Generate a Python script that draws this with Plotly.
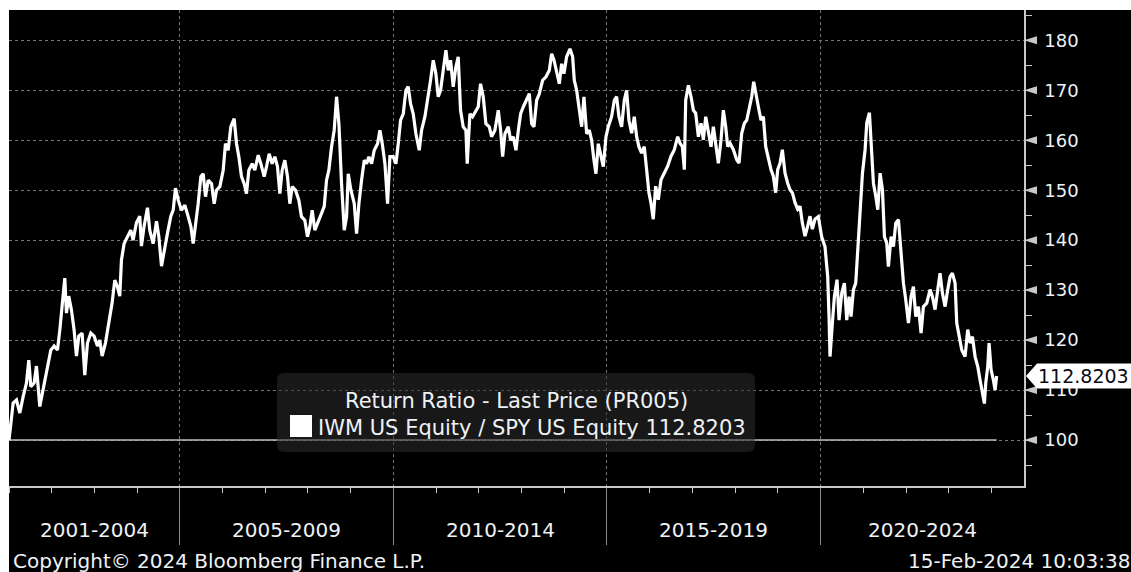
import pandas as pd
import plotly.graph_objects as go

# ---------------- data ----------------
obs_year = [
    2001.000, 2001.058, 2001.097, 2001.175, 2001.253, 2001.331, 2001.409, 2001.464, 2001.511, 2001.589, 2001.643, 2001.721, 2001.799, 2001.854, 2001.916, 2001.979,
    2002.057, 2002.135, 2002.190, 2002.244, 2002.307, 2002.346, 2002.400, 2002.463, 2002.525, 2002.580, 2002.635, 2002.713, 2002.775, 2002.838, 2002.916, 2002.994,
    2003.072, 2003.126, 2003.181, 2003.259, 2003.337, 2003.415, 2003.478, 2003.540, 2003.595, 2003.634, 2003.696, 2003.774, 2003.852, 2003.907, 2003.985,
    2004.063, 2004.102, 2004.165, 2004.243, 2004.297, 2004.375, 2004.454, 2004.508, 2004.571, 2004.633, 2004.711, 2004.789, 2004.844, 2004.898, 2004.961,
    2005.039, 2005.117, 2005.195, 2005.258, 2005.312, 2005.367, 2005.429, 2005.492, 2005.546, 2005.601, 2005.664, 2005.742, 2005.804, 2005.859, 2005.937,
    2006.015, 2006.069, 2006.132, 2006.194, 2006.272, 2006.327, 2006.382, 2006.444, 2006.507, 2006.561, 2006.616, 2006.694, 2006.756, 2006.835, 2006.897, 2006.975,
    2007.030, 2007.092, 2007.162, 2007.225, 2007.287, 2007.342, 2007.397, 2007.459, 2007.522, 2007.576, 2007.631, 2007.709, 2007.787, 2007.849, 2007.927, 2007.990,
    2008.045, 2008.099, 2008.162, 2008.224, 2008.302, 2008.380, 2008.435, 2008.489, 2008.552, 2008.614, 2008.669, 2008.724, 2008.786, 2008.849, 2008.903, 2008.942,
    2009.005, 2009.083, 2009.137, 2009.192, 2009.254, 2009.317, 2009.372, 2009.426, 2009.489, 2009.551, 2009.629, 2009.684, 2009.739, 2009.801, 2009.863, 2009.918,
    2009.996,
    2010.059, 2010.113, 2010.168, 2010.230, 2010.293, 2010.347, 2010.402, 2010.464, 2010.527, 2010.605, 2010.660, 2010.738, 2010.816, 2010.870, 2010.933, 2010.995,
    2011.050, 2011.105, 2011.167, 2011.230, 2011.284, 2011.339, 2011.401, 2011.464, 2011.518, 2011.573, 2011.635, 2011.698, 2011.729, 2011.792, 2011.854, 2011.932, 2011.987,
    2012.041, 2012.104, 2012.166, 2012.244, 2012.299, 2012.377, 2012.455, 2012.510, 2012.557, 2012.611, 2012.689, 2012.744, 2012.806, 2012.869, 2012.924, 2012.978,
    2013.041, 2013.119, 2013.181, 2013.236, 2013.290, 2013.353, 2013.415, 2013.493, 2013.571, 2013.650, 2013.704, 2013.759, 2013.821, 2013.884, 2013.938, 2013.993,
    2014.055, 2014.134, 2014.196, 2014.235, 2014.290, 2014.352, 2014.407, 2014.461, 2014.524, 2014.586, 2014.641, 2014.696, 2014.742, 2014.797, 2014.852, 2014.914, 2014.977,
    2015.031, 2015.109, 2015.172, 2015.226, 2015.281, 2015.343, 2015.406, 2015.460, 2015.515, 2015.578, 2015.640, 2015.695, 2015.749, 2015.812, 2015.874, 2015.929, 2015.983,
    2016.030, 2016.085, 2016.140, 2016.202, 2016.265, 2016.343, 2016.421, 2016.499, 2016.577, 2016.655, 2016.709, 2016.764, 2016.811, 2016.842, 2016.905, 2016.967,
    2017.022, 2017.076, 2017.139, 2017.201, 2017.256, 2017.311, 2017.373, 2017.435, 2017.490, 2017.545, 2017.607, 2017.670, 2017.724, 2017.779, 2017.826, 2017.880, 2017.959,
    2018.037, 2018.091, 2018.154, 2018.216, 2018.271, 2018.325, 2018.388, 2018.435, 2018.482, 2018.544, 2018.606, 2018.661, 2018.716, 2018.778, 2018.841, 2018.895, 2018.950, 2018.997,
    2019.051, 2019.106, 2019.169, 2019.231, 2019.286, 2019.340, 2019.403, 2019.465, 2019.520, 2019.574, 2019.637, 2019.699, 2019.754, 2019.809, 2019.871, 2019.949,
    2020.027, 2020.105, 2020.168, 2020.199, 2020.222, 2020.277, 2020.324, 2020.386, 2020.433, 2020.496, 2020.558, 2020.613, 2020.667, 2020.714, 2020.769, 2020.823, 2020.870, 2020.925, 2020.980,
    2021.042, 2021.081, 2021.143, 2021.183, 2021.237, 2021.292, 2021.339, 2021.393, 2021.448, 2021.495, 2021.549, 2021.588, 2021.651, 2021.706, 2021.760, 2021.823, 2021.885, 2021.940, 2021.994,
    2022.057, 2022.119, 2022.174, 2022.229, 2022.291, 2022.353, 2022.408, 2022.486, 2022.564, 2022.619, 2022.681, 2022.744, 2022.798, 2022.853, 2022.916, 2022.978,
    2023.033, 2023.087, 2023.150, 2023.189, 2023.243, 2023.306, 2023.384, 2023.446, 2023.501, 2023.556, 2023.618, 2023.681, 2023.735, 2023.790, 2023.837, 2023.868, 2023.915, 2023.946, 2023.993,
    2024.047, 2024.087, 2024.123,
]

ratio = [
    100.0, 104.7, 107.4, 108.0, 105.4, 108.7, 111.4, 116.0, 110.7, 111.4, 114.8, 106.7, 110.0, 112.7, 115.4, 118.0,
    118.8, 118.0, 122.0, 126.8, 132.4, 125.4, 128.8, 126.0, 122.0, 116.8, 120.8, 121.4, 113.0, 119.4, 121.4, 120.8,
    118.8, 120.0, 116.8, 119.4, 123.4, 127.4, 132.0, 130.7, 128.8, 136.0, 139.3, 140.7, 142.0, 140.0, 143.5,
    144.8, 138.8, 142.8, 146.5, 142.0, 139.3, 143.8, 140.8, 134.8, 137.4, 141.4, 144.8, 146.0, 150.4, 148.0,
    146.0, 147.0, 144.7, 142.7, 139.3, 142.7, 147.3, 152.7, 153.3, 148.7, 152.0, 151.3, 147.3, 150.0, 150.7,
    154.0, 159.3, 158.0, 162.7, 164.3, 159.3, 156.7, 152.7, 151.3, 149.3, 154.0, 155.3, 154.0, 157.0, 155.3, 152.7,
    154.7, 157.3, 155.3, 156.7, 154.7, 149.3, 154.0, 156.0, 152.7, 147.3, 150.7, 150.0, 148.0, 144.7, 144.0, 140.7,
    142.7, 146.0, 142.0, 143.3, 144.7, 146.7, 152.0, 154.0, 158.7, 162.0, 168.7, 163.3, 151.3, 142.0, 144.7, 153.3,
    150.0, 147.3, 141.3, 147.3, 152.0, 156.0, 155.3, 156.7, 155.3, 158.0, 159.3, 162.0, 159.3, 155.3, 147.3, 156.7,
    156.7,
    155.3, 159.3, 164.0, 165.3, 170.0, 170.7, 167.3, 165.3, 161.3, 158.0, 162.0, 164.7, 168.7, 172.0, 176.0, 173.3,
    168.7, 170.0, 174.0, 178.0, 174.0, 176.0, 170.7, 174.7, 176.7, 166.0, 162.7, 162.0, 155.3, 165.3, 164.7, 166.0, 166.7,
    171.3, 168.7, 163.3, 162.7, 160.7, 162.0, 166.0, 162.0, 156.7, 161.3, 162.7, 160.0, 160.7, 158.0, 162.0, 165.3,
    166.7, 168.0, 169.3, 163.3, 162.7, 168.0, 169.3, 172.0, 172.7, 174.0, 177.3, 176.0, 173.3, 171.3, 175.3, 173.3,
    176.7, 178.3, 176.7, 172.0, 170.0, 166.0, 162.7, 168.7, 161.3, 162.0, 160.0, 156.0, 153.3, 159.3, 157.3, 154.7, 160.7,
    162.7, 164.7, 168.0, 168.7, 164.7, 162.7, 168.0, 170.0, 164.0, 161.4, 164.7, 160.7, 158.7, 157.4, 158.7, 154.1, 149.5,
    147.5, 144.2, 150.8, 148.1, 152.1, 153.4, 154.8, 156.8, 158.1, 160.7, 159.4, 158.7, 154.1, 168.0, 171.0, 168.7,
    166.0, 165.4, 160.7, 163.4, 160.1, 164.7, 161.4, 158.7, 162.7, 159.4, 155.4, 160.1, 166.0, 162.7, 158.7, 159.4, 158.1,
    156.1, 155.4, 161.4, 163.4, 164.0, 166.0, 168.7, 171.7, 169.3, 166.7, 164.0, 164.7, 158.7, 156.1, 154.1, 152.8, 149.5, 154.1,
    155.4, 158.1, 153.4, 151.4, 150.1, 149.5, 147.5, 146.2, 146.8, 143.5, 140.8, 142.8, 144.8, 142.2, 144.2, 144.7,
    140.7, 138.7, 132.7, 124.7, 116.7, 123.4, 128.7, 132.1, 124.0, 129.4, 131.4, 124.0, 128.7, 124.7, 130.1, 131.4, 138.1, 147.4, 153.4,
    158.1, 163.5, 165.5, 158.1, 151.4, 148.8, 146.1, 153.4, 150.1, 140.7, 139.4, 134.7, 140.7, 138.7, 143.4, 144.1, 137.4, 131.4, 128.1,
    123.4, 128.7, 130.7, 124.7, 126.7, 121.4, 126.7, 127.4, 130.1, 128.7, 126.1, 130.1, 133.4, 129.4, 126.7, 130.1,
    132.7, 133.4, 131.4, 123.4, 120.7, 118.0, 116.7, 122.1, 119.4, 120.7, 116.7, 114.7, 112.0, 109.3, 107.3, 111.4, 114.7, 119.4, 114.1,
    112.0, 110.0, 112.8203,
]

LAST_PRICE = 112.8203
BASE_LEVEL = 100
y_tick_values = [100, 110, 120, 130, 140, 150, 160, 170, 180]
period_labels = ["2001-2004", "2005-2009", "2010-2014", "2015-2019", "2020-2024"]
period_starts = ["2001-01-01", "2005-01-01", "2010-01-01", "2015-01-01", "2020-01-01"]
legend_title = "Return Ratio - Last Price (PR005)"
series_name = "IWM US Equity / SPY US Equity"
footer_left = "Copyright\u00a9 2024 Bloomberg Finance L.P."
footer_right = "15-Feb-2024 10:03:38"

X_START = "2001-01-01"
X_END = "2024-10-06"
Y_MIN, Y_MAX = 90.8, 186.06

# ---------------- helpers ----------------
def to_date(y):
    yr = int(y)
    start = pd.Timestamp(year=yr, month=1, day=1)
    end = pd.Timestamp(year=yr + 1, month=1, day=1)
    return start + (end - start) * (y - yr)

dates = [to_date(y) for y in obs_year]

W, H = 1131, 572
ML, MR, MT, MB = 9, 107, 10, 86
PW, PH = W - ML - MR, H - MT - MB

def px_x(p):
    return (p - ML) / PW

def px_y(p):
    return (MT + PH - p) / PH

FONT = "DejaVu Sans"
TXT = "#eef2f6"
GRID = "#767676"
AXIS = "#c8c8c8"
UNIT = PH / (Y_MAX - Y_MIN)  # pixels per value unit

fig = go.Figure()

fig.add_trace(go.Scatter(
    x=[dates[0], dates[-1]], y=[BASE_LEVEL, BASE_LEVEL], mode="lines",
    line=dict(color="#bdbdbd", width=1.6), hoverinfo="skip", showlegend=False))

fig.add_trace(go.Scatter(
    x=dates, y=ratio, mode="lines", name=series_name,
    line=dict(color="#ffffff", width=3.2), showlegend=False))

shapes = []
annotations = []

# white page margin (top / left strips)
shapes.append(dict(type="rect", xref="paper", yref="paper", x0=px_x(0), x1=px_x(W),
                   y0=px_y(MT), y1=px_y(0), fillcolor="white", line=dict(width=0), layer="above"))
shapes.append(dict(type="rect", xref="paper", yref="paper", x0=px_x(0), x1=px_x(ML),
                   y0=px_y(H), y1=px_y(0), fillcolor="white", line=dict(width=0), layer="above"))

# y tick triangles
for v in y_tick_values:
    h = 4 / UNIT
    shapes.append(dict(type="path", xref="paper", yref="y",
                       path=f"M {px_x(1024)},{v} L {px_x(1037)},{v + h} L {px_x(1037)},{v - h} Z",
                       fillcolor=AXIS, line=dict(width=0)))

# last-price callout
hh = 12.5 / UNIT
shapes.append(dict(type="path", xref="paper", yref="y",
                   path=(f"M {px_x(1026)},{LAST_PRICE} L {px_x(1037)},{LAST_PRICE + hh} "
                         f"L {px_x(1140)},{LAST_PRICE + hh} L {px_x(1140)},{LAST_PRICE - hh} "
                         f"L {px_x(1037)},{LAST_PRICE - hh} Z"),
                   fillcolor="white", line=dict(width=0)))
annotations.append(dict(xref="paper", yref="y", x=px_x(1036), y=LAST_PRICE,
                        xanchor="left", yanchor="middle", showarrow=False,
                        text=f"{LAST_PRICE:.4f}", font=dict(family=FONT, size=19, color="#0a0a14")))

# legend box (translucent, rounded)
x0, x1, y0, y1 = px_x(277), px_x(755), px_y(452), px_y(373)
rx, ry = 7 / PW, 7 / PH
shapes.append(dict(type="path", xref="paper", yref="paper",
                   path=(f"M {x0 + rx},{y0} L {x1 - rx},{y0} Q {x1},{y0} {x1},{y0 + ry} "
                         f"L {x1},{y1 - ry} Q {x1},{y1} {x1 - rx},{y1} L {x0 + rx},{y1} "
                         f"Q {x0},{y1} {x0},{y1 - ry} L {x0},{y0 + ry} Q {x0},{y0} {x0 + rx},{y0} Z"),
                   fillcolor="rgba(44,44,44,0.55)", line=dict(width=0), layer="above"))
shapes.append(dict(type="rect", xref="paper", yref="paper", x0=px_x(290), x1=px_x(312),
                   y0=px_y(437), y1=px_y(415), fillcolor="white", line=dict(width=0), layer="above"))
annotations.append(dict(xref="paper", yref="paper", x=px_x(516), y=px_y(401),
                        xanchor="center", yanchor="middle", showarrow=False,
                        text=legend_title, font=dict(family=FONT, size=21, color=TXT)))
annotations.append(dict(xref="paper", yref="paper", x=px_x(316), y=px_y(428),
                        xanchor="left", yanchor="middle", showarrow=False,
                        text=f"{series_name} {LAST_PRICE:.4f}",
                        font=dict(family=FONT, size=21, color=TXT)))

# period labels centred in each visible block
bounds = [pd.Timestamp(s) for s in period_starts] + [pd.Timestamp(X_END)]
for i, lab in enumerate(period_labels):
    mid = bounds[i] + (bounds[i + 1] - bounds[i]) / 2
    annotations.append(dict(xref="x", yref="paper", x=mid, y=px_y(530),
                            xanchor="center", yanchor="middle", showarrow=False,
                            text=lab, font=dict(family=FONT, size=20, color=TXT)))

# footer
annotations.append(dict(xref="paper", yref="paper", x=px_x(11), y=px_y(561),
                        xanchor="left", yanchor="middle", showarrow=False,
                        text=footer_left, font=dict(family=FONT, size=20, color=TXT)))
annotations.append(dict(xref="paper", yref="paper", x=px_x(1132), y=px_y(561),
                        xanchor="right", yanchor="middle", showarrow=False,
                        text=footer_right, font=dict(family=FONT, size=20, color=TXT)))

fig.update_layout(
    width=W, height=H, autosize=False,
    margin=dict(l=ML, r=MR, t=MT, b=MB, pad=0),
    paper_bgcolor="black", plot_bgcolor="black",
    showlegend=False, shapes=shapes, annotations=annotations,
    font=dict(family=FONT, color=TXT),
    xaxis=dict(
        type="date", range=[X_START, X_END],
        tickmode="array", tickvals=period_starts[1:], showticklabels=False,
        ticks="outside", ticklen=57, tickwidth=1.4, tickcolor="#8a8a8a",
        showgrid=True, gridcolor=GRID, griddash="dot", gridwidth=1,
        showline=True, linecolor=AXIS, linewidth=1.5, zeroline=False,
        minor=dict(ticks="outside", ticklen=5, tickwidth=1.2, tickcolor=AXIS,
                   dtick="M12", tick0=X_START, showgrid=False),
    ),
    yaxis=dict(
        side="right", range=[Y_MIN, Y_MAX],
        tickmode="array", tickvals=y_tick_values, ticks="",
        ticklabelstandoff=15,
        tickfont=dict(family=FONT, size=18, color=TXT),
        showgrid=True, gridcolor=GRID, griddash="dot", gridwidth=1,
        showline=True, linecolor=AXIS, linewidth=1.5, zeroline=False,
        minor=dict(ticks="outside", ticklen=6, tickwidth=1.2, tickcolor=AXIS,
                   dtick=5, tick0=0, showgrid=False),
    ),
)

fig.write_html("out.html", config={"displayModeBar": False},
               post_script="document.body.style.margin='0';")
